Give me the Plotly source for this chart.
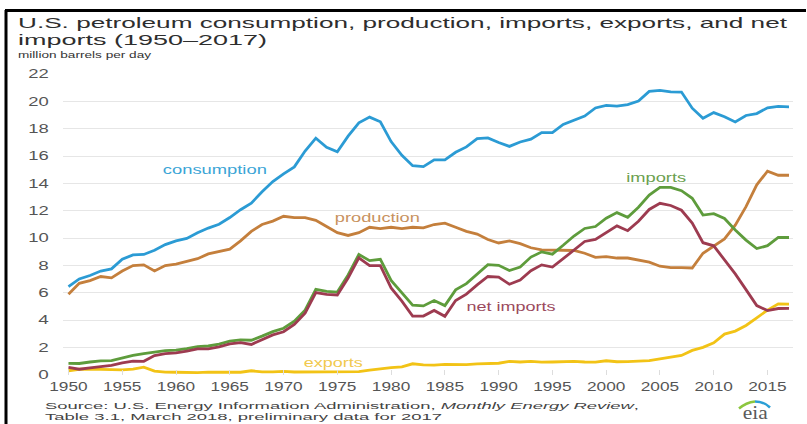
import json
import plotly.graph_objects as go

years = list(range(1950, 2018))

consumption = [6.46, 7.02, 7.27, 7.60, 7.76, 8.46, 8.78, 8.81, 9.12, 9.53,
               9.80, 9.98, 10.40, 10.74, 11.02, 11.51, 12.08, 12.56, 13.39, 14.14,
               14.70, 15.21, 16.37, 17.31, 16.65, 16.32, 17.46, 18.43, 18.85, 18.51,
               17.06, 16.06, 15.30, 15.23, 15.73, 15.73, 16.28, 16.67, 17.28, 17.33,
               16.99, 16.71, 17.03, 17.24, 17.72, 17.72, 18.31, 18.62, 18.92, 19.52,
               19.70, 19.65, 19.76, 20.03, 20.73, 20.80, 20.69, 20.68, 19.50, 18.77,
               19.18, 18.88, 18.49, 18.97, 19.11, 19.53, 19.63, 19.60]

production = [5.90, 6.70, 6.90, 7.20, 7.10, 7.60, 8.00, 8.05, 7.60, 8.00,
              8.10, 8.30, 8.50, 8.85, 9.00, 9.20, 9.80, 10.50, 11.00, 11.25,
              11.60, 11.50, 11.50, 11.30, 10.85, 10.40, 10.20, 10.40, 10.80, 10.70,
              10.80, 10.70, 10.80, 10.75, 11.00, 11.10, 10.80, 10.50, 10.30, 9.90,
              9.65, 9.80, 9.60, 9.30, 9.15, 9.15, 9.10, 9.10, 8.90, 8.60,
              8.65, 8.55, 8.55, 8.40, 8.25, 7.95, 7.85, 7.85, 7.82, 8.90,
              9.40, 9.95, 10.95, 12.30, 13.90, 14.90, 14.60, 14.60]

imports = [0.85, 0.84, 0.95, 1.03, 1.05, 1.25, 1.44, 1.57, 1.70, 1.78,
           1.82, 1.92, 2.08, 2.12, 2.26, 2.47, 2.57, 2.54, 2.84, 3.17,
           3.42, 3.93, 4.74, 6.26, 6.11, 6.06, 7.31, 8.81, 8.36, 8.46,
           6.91, 6.00, 5.11, 5.05, 5.44, 5.07, 6.22, 6.68, 7.40, 8.06,
           8.02, 7.63, 7.89, 8.62, 9.00, 8.83, 9.48, 10.16, 10.71, 10.85,
           11.46, 11.87, 11.53, 12.26, 13.15, 13.71, 13.71, 13.47, 12.92, 11.69,
           11.79, 11.44, 10.60, 9.86, 9.24, 9.45, 10.06, 10.05]

exports = [0.31, 0.42, 0.43, 0.40, 0.36, 0.37, 0.43, 0.57, 0.28, 0.21,
           0.20, 0.17, 0.17, 0.21, 0.20, 0.19, 0.20, 0.31, 0.23, 0.23,
           0.26, 0.22, 0.22, 0.23, 0.22, 0.21, 0.22, 0.24, 0.36, 0.47,
           0.54, 0.60, 0.82, 0.74, 0.72, 0.78, 0.78, 0.76, 0.82, 0.86,
           0.86, 1.00, 0.95, 1.00, 0.94, 0.95, 0.98, 1.00, 0.95, 0.94,
           1.04, 0.97, 0.98, 1.03, 1.05, 1.17, 1.32, 1.43, 1.80, 2.02,
           2.35, 2.99, 3.21, 3.62, 4.18, 4.74, 5.20, 5.18]

net_imports = [0.55, 0.42, 0.52, 0.63, 0.70, 0.88, 1.01, 1.00, 1.42, 1.57,
               1.61, 1.74, 1.91, 1.91, 2.06, 2.28, 2.37, 2.23, 2.61, 2.93,
               3.16, 3.70, 4.52, 6.03, 5.89, 5.85, 7.09, 8.56, 8.00, 7.99,
               6.36, 5.40, 4.30, 4.31, 4.72, 4.29, 5.44, 5.91, 6.59, 7.20,
               7.16, 6.63, 6.94, 7.62, 8.05, 7.89, 8.50, 9.16, 9.76, 9.91,
               10.42, 10.90, 10.55, 11.24, 12.10, 12.55, 12.39, 12.04, 11.11, 9.67,
               9.44, 8.45, 7.39, 6.24, 5.07, 4.71, 4.86, 4.87]

x_ticks = list(range(1950, 2016, 5))
y_ticks = list(range(0, 23, 2))

series = {
    "consumption": (consumption, "#2b9bd4"),
    "production": (production, "#c47f3c"),
    "imports": (imports, "#5e9c3c"),
    "exports": (exports, "#f2c316"),
    "net imports": (net_imports, "#9d3b50"),
}

W, H = 807, 424
L, R, T, B = 63, 793, 74, 375


def px(x):
    return (x - L) / (R - L)


def py(y):
    return (B - y) / (B - T)


fig = go.Figure()
for name in ["production", "consumption", "exports", "imports", "net imports"]:
    vals, col = series[name]
    fig.add_trace(go.Scatter(x=years, y=vals, mode="lines", name=name,
                             line=dict(color=col, width=2.8), showlegend=False,
                             hoverinfo="x+y"))

font = "Liberation Sans"
annotations = []
targets = []  # (target width in px, keep-anchor mode)


def label(text, x, cy, color, size, width, anchor="center", family=font):
    annotations.append(dict(text=text, x=px(x), y=py(cy), xref="paper", yref="paper",
                            xanchor=anchor, yanchor="middle", showarrow=False,
                            font=dict(family=family, size=size, color=color)))
    targets.append([width, anchor])


label("consumption", 215, 169, "#3ba5d6", 13, 104)
label("production", 377.5, 217.5, "#c8925e", 13, 85)
label("imports", 656, 177.5, "#6b9f4f", 13, 60)
label("net imports", 511.5, 306, "#9b4a5d", 13, 89)
label("exports", 333.5, 362, "#f1c94e", 13, 59)

label("U.S. petroleum consumption, production, imports, exports, and net", 16, 23.2, "#2e2e2e", 14.6, 769, "left")
label("imports (1950\u20132017)", 16, 39.6, "#2e2e2e", 14.6, 249, "left")
label("million barrels per day", 16, 54.2, "#333333", 9.5, 133, "left")
label("Source: U.S. Energy Information Administration, <i>Monthly Energy Review</i>,", 43, 405.5, "#444444", 9.7, 594, "left")
label("Table 3.1, March 2018, preliminary data for 2017", 43, 416.3, "#444444", 9.7, 397, "left")
label("eia", 755.5, 412.9, "#5a5a5a", 19.5, 25, "center", "Liberation Serif")

shapes = [
    dict(type="line", xref="paper", yref="paper", x0=px(5), x1=px(806), y0=py(10.5), y1=py(10.5),
         line=dict(color="#000000", width=3)),
    dict(type="line", xref="paper", yref="paper", x0=px(6), x1=px(6), y0=py(10), y1=py(424),
         line=dict(color="#000000", width=3)),
    dict(type="path", xref="paper", yref="paper",
         path=f"M {px(739)},{py(408.5)} Q {px(746)},{py(402.5)} {px(755)},{py(401.5)}",
         line=dict(color="#8cc63f", width=2.5)),
    dict(type="path", xref="paper", yref="paper",
         path=f"M {px(755)},{py(401.5)} Q {px(764)},{py(401.5)} {px(770)},{py(407.5)}",
         line=dict(color="#2a9fd6", width=2.5)),
]

fig.update_layout(
    width=W, height=H,
    margin=dict(l=L, r=W - R, t=T, b=H - B, pad=0),
    paper_bgcolor="white", plot_bgcolor="white",
    annotations=annotations, shapes=shapes,
    xaxis=dict(range=[1949.49, 2017.37], tickvals=x_ticks, showgrid=False,
               zeroline=False, showline=False, ticks="inside", ticklen=5,
               tickcolor="#dddddd", ticklabelstandoff=3,
               tickfont=dict(family=font, size=12, color="#555555")),
    yaxis=dict(range=[0, 22], tickvals=y_ticks, showgrid=True, gridcolor="#e6e6e6",
               gridwidth=1, zeroline=False, showline=False, ticks="",
               ticklabelstandoff=13,
               tickfont=dict(family=font, size=12, color="#555555")),
)

post = """
document.body.style.margin = '0';
var gd = document.getElementById('{plot_id}');
var targets = TARGETS;
function stretch(el, target, mode) {
  var r0 = el.getBoundingClientRect();
  if (!r0.width) return;
  el.setAttribute('lengthAdjust', 'spacingAndGlyphs');
  el.setAttribute('textLength', target);
  var r1 = el.getBoundingClientRect();
  var dx;
  if (mode === 'left') dx = r0.left - r1.left;
  else if (mode === 'right') dx = r0.right - r1.right;
  else dx = (r0.left + r0.right) / 2 - (r1.left + r1.right) / 2;
  var t = el.getAttribute('transform') || '';
  el.setAttribute('transform', t + ' translate(' + dx + ',0)');
}
gd.querySelectorAll('g.annotation').forEach(function (g) {
  var i = parseInt(g.getAttribute('data-index'));
  var el = g.querySelector('text.annotation-text');
  if (el && targets[i]) stretch(el, targets[i][0], targets[i][1]);
});
gd.querySelectorAll('g.xtick text').forEach(function (el) {
  stretch(el, el.getBoundingClientRect().width * 1.42, 'center');
});
gd.querySelectorAll('g.ytick text').forEach(function (el) {
  stretch(el, el.getBoundingClientRect().width * 1.5, 'right');
});
""".replace("TARGETS", json.dumps(targets))

fig.write_html("out.html", post_script=post, config={"displayModeBar": False})
